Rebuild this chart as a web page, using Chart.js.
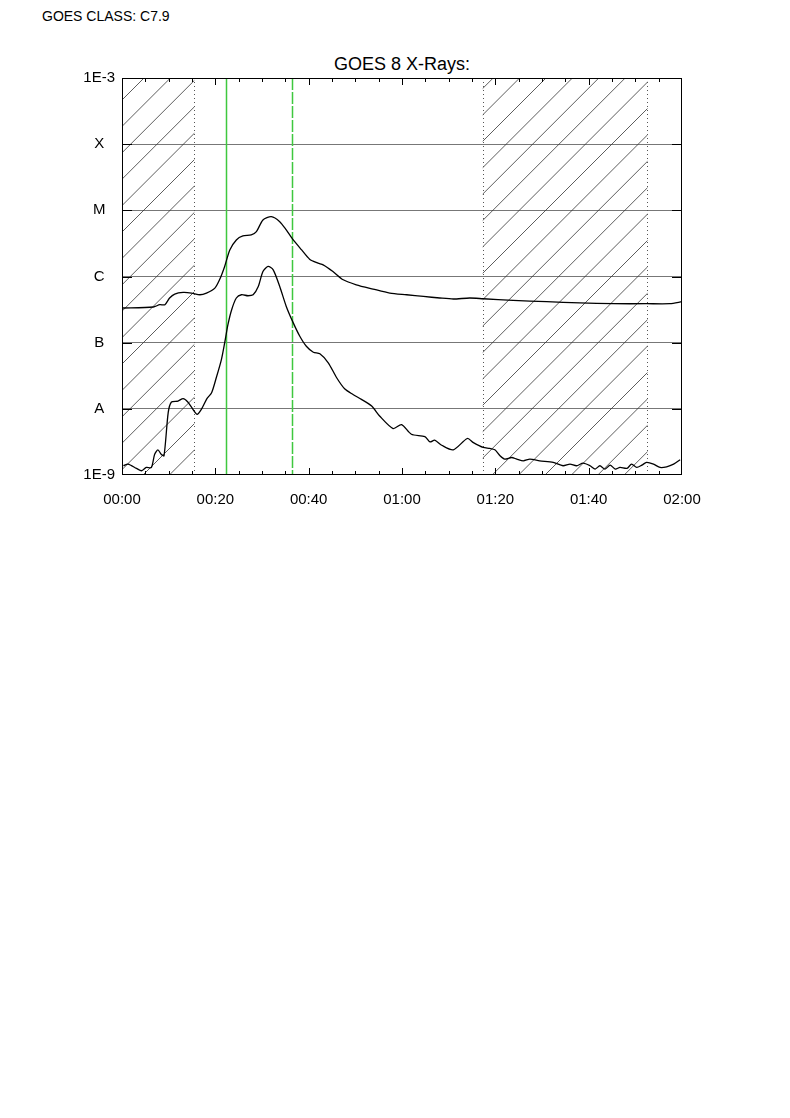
<!DOCTYPE html>
<html>
<head>
<meta charset="utf-8">
<script src="https://cdn.jsdelivr.net/npm/chart.js@4.4.0/dist/chart.umd.min.js"></script>
<style>
  body { margin: 0; background: #fff; width: 790px; height: 1118px; overflow: hidden; position: relative;
         font-family: "Liberation Sans", Arial, sans-serif; color: #000; }
  #cls { position: absolute; left: 42px; top: 8px; font-size: 14px; line-height: 16px; }
  #ttl { position: absolute; left: 122px; width: 560px; top: 54px; text-align: center; font-size: 18px; line-height: 20px; }
  #wrap { position: absolute; left: 0; top: 0; width: 790px; height: 520px; }
</style>
</head>
<body>
<div id="cls">GOES CLASS: C7.9</div>
<div id="ttl">GOES 8 X-Rays:</div>
<div id="wrap"><canvas id="goes" width="790" height="520"></canvas></div>
<script>
// temps en minutes depuis 00:00, flux en W/m2
const longTimes = [0, 6.7, 8.1, 9.2, 10.2, 11.3, 13.1, 14.9, 16.7, 18.1, 19.9, 20.9, 22.0, 23.1, 24.5, 25.9,
    27.7, 28.8, 30.2, 32.0, 33.8, 35.2, 36.7, 38.5, 40.2, 42.0, 43.1, 45.2, 47.4, 50.2, 53.8, 57.4,
    61.0, 64.6, 68.1, 71.0, 74.5, 77.4, 83.8, 91.0, 98.1, 105.3, 112.4, 117.4, 120];
const longFlux = [3.34e-7, 3.46e-7, 3.75e-7, 3.75e-7, 4.73e-7, 5.43e-7, 5.74e-7, 5.62e-7, 5.30e-7, 5.62e-7,
    6.68e-7, 8.92e-7, 1.42e-6, 2.52e-6, 3.57e-6, 4.10e-6, 4.25e-6, 4.76e-6, 7.15e-6, 8.01e-6, 6.73e-6,
    5.05e-6, 3.57e-6, 2.52e-6, 1.83e-6, 1.59e-6, 1.50e-6, 1.19e-6, 8.92e-7, 7.50e-7, 6.46e-7, 5.62e-7,
    5.30e-7, 5.00e-7, 4.73e-7, 4.57e-7, 4.73e-7, 4.61e-7, 4.35e-7, 4.16e-7, 3.98e-7, 3.88e-7, 3.88e-7,
    3.88e-7, 4.16e-7];

const shortTimes = [0.3, 1.3, 3.1, 4.2, 5.2, 6.3, 7.0, 7.7, 8.4, 9.0, 9.9, 10.6, 12.0, 13.1, 14.1, 15.2,
    16.1, 17.0, 18.2, 19.2, 20.2, 21.3, 22.0, 22.7, 23.5, 24.5, 25.6, 27.0, 28.1, 29.2, 30.2, 31.3,
    32.4, 33.8, 35.2, 36.7, 38.1, 39.5, 41.0, 42.4, 44.2, 46.0, 47.7, 49.5, 51.3, 53.5, 55.2, 58.1,
    59.9, 62.0, 64.9, 66.0, 67.0, 68.5, 71.0, 74.0, 75.3, 77.4, 78.8, 79.9, 81.0, 82.0, 83.5, 84.6,
    86.0, 87.4, 89.5, 92.4, 94.5, 96.0, 97.4, 98.8, 100.3, 101.4, 102.4, 103.5, 104.6, 105.7, 106.7,
    108.2, 109.2, 110.3, 111.4, 112.4, 113.9, 115.3, 116.7, 118.2, 119.6];
const shortFlux = [1.38e-9, 1.46e-9, 1.26e-9, 1.16e-9, 1.30e-9, 1.30e-9, 2.06e-9, 2.40e-9, 2.06e-9, 1.95e-9,
    8.77e-9, 1.27e-8, 1.31e-8, 1.43e-8, 1.27e-8, 9.82e-9, 8.26e-9, 9.82e-9, 1.43e-8, 1.75e-8, 2.95e-8,
    5.56e-8, 9.93e-8, 1.87e-7, 3.15e-7, 4.73e-7, 5.30e-7, 5.12e-7, 5.30e-7, 7.06e-7, 1.19e-6, 1.42e-6,
    1.26e-6, 7.06e-7, 3.53e-7, 1.99e-7, 1.25e-7, 8.83e-8, 7.17e-8, 6.78e-8, 4.96e-8, 2.95e-8, 2.01e-8,
    1.65e-8, 1.39e-8, 1.10e-8, 7.80e-9, 5.04e-9, 5.78e-9, 4.13e-9, 3.81e-9, 3.16e-9, 3.36e-9, 2.82e-9,
    2.40e-9, 3.56e-9, 3.09e-9, 2.61e-9, 2.52e-9, 2.40e-9, 1.95e-9, 1.74e-9, 1.84e-9, 1.74e-9, 1.64e-9,
    1.74e-9, 1.64e-9, 1.55e-9, 1.38e-9, 1.46e-9, 1.38e-9, 1.51e-9, 1.38e-9, 1.23e-9, 1.38e-9, 1.23e-9,
    1.41e-9, 1.23e-9, 1.30e-9, 1.26e-9, 1.46e-9, 1.30e-9, 1.41e-9, 1.55e-9, 1.46e-9, 1.30e-9, 1.33e-9,
    1.46e-9, 1.70e-9];

// graduations de l'axe Y (puissances de 10) et leurs noms de classe
const yExponents = [-9, -8, -7, -6, -5, -4, -3];
const yLabels = ['1E-9', 'A', 'B', 'C', 'M', 'X', '1E-3'];

// zones hachurees (nuit / SAA) et marqueurs du flare, en minutes
const hatchStarts = [0, 77.3];
const hatchEnds = [15.5, 112.6];
const dottedMarks = [15.5, 77.3, 112.6];
const flareStart = 22.2;
const flareEnd = 36.4;

function hhmm(v) {
    const h = Math.floor(v / 60), m = Math.round(v % 60);
    return String(h).padStart(2, '0') + ':' + String(m).padStart(2, '0');
}

const decorPlugin = {
    id: 'goesDecor',
    beforeDatasetsDraw(chart) {
        const ctx = chart.ctx;
        const { top, bottom } = chart.chartArea;
        const xs = chart.scales.x;
        const phases = [10.8, 16.8];
        const step = 26.4;

        // hachures a 45 degres
        hatchStarts.forEach((a, i) => {
            const x0 = xs.getPixelForValue(a), x1 = xs.getPixelForValue(hatchEnds[i]);
            ctx.save();
            ctx.beginPath();
            ctx.rect(x0, top, x1 - x0, bottom - top);
            ctx.clip();
            ctx.strokeStyle = '#333';
            ctx.lineWidth = 0.8;
            let c = phases[i] + Math.floor((x0 + top - phases[i]) / step) * step;
            for (; c <= x1 + bottom + step; c += step) {
                ctx.beginPath();
                ctx.moveTo(c - bottom, bottom);
                ctx.lineTo(c - top, top);
                ctx.stroke();
            }
            ctx.restore();
        });

        // lignes pointillees
        ctx.save();
        ctx.strokeStyle = '#555';
        ctx.lineWidth = 1;
        ctx.setLineDash([1, 3]);
        dottedMarks.forEach(t => {
            const x = Math.round(xs.getPixelForValue(t)) + 0.5;
            ctx.beginPath();
            ctx.moveTo(x, top);
            ctx.lineTo(x, bottom);
            ctx.stroke();
        });
        ctx.restore();

        // debut / fin du flare en vert
        ctx.save();
        ctx.strokeStyle = '#3fc83f';
        ctx.lineWidth = 1.5;
        let x = Math.round(xs.getPixelForValue(flareStart)) + 0.5;
        ctx.beginPath(); ctx.moveTo(x, top); ctx.lineTo(x, bottom); ctx.stroke();
        ctx.setLineDash([12, 2]);
        x = Math.round(xs.getPixelForValue(flareEnd)) + 0.5;
        ctx.beginPath(); ctx.moveTo(x, top); ctx.lineTo(x, bottom); ctx.stroke();
        ctx.restore();
    },
    afterDraw(chart) {
        const ctx = chart.ctx;
        const { left, right, top, bottom } = chart.chartArea;
        const xs = chart.scales.x, ys = chart.scales.y;
        ctx.save();
        ctx.strokeStyle = '#000';
        ctx.lineWidth = 1;
        ctx.strokeRect(left + 0.5, top + 0.5, right - left - 1, bottom - top - 1);

        // petites graduations vers l'interieur
        for (let t = 5; t < 120; t += 5) {
            const x = Math.round(xs.getPixelForValue(t)) + 0.5;
            const len = (t % 20 === 0) ? 7 : 4;
            ctx.beginPath();
            ctx.moveTo(x, bottom); ctx.lineTo(x, bottom - len);
            ctx.moveTo(x, top); ctx.lineTo(x, top + len);
            ctx.stroke();
        }
        yExponents.slice(1, -1).forEach(e => {
            const y = Math.round(ys.getPixelForValue(Math.pow(10, e))) + 0.5;
            ctx.beginPath();
            ctx.moveTo(left, y); ctx.lineTo(left + 10, y);
            ctx.moveTo(right, y); ctx.lineTo(right - 10, y);
            ctx.stroke();
        });
        ctx.restore();
    }
};

const toPoints = (ts, vs) => ts.map((t, i) => ({ x: t, y: vs[i] }));

new Chart(document.getElementById('goes'), {
    type: 'line',
    data: {
        datasets: [
            { label: '1-8 A', data: toPoints(longTimes, longFlux), borderColor: '#000', borderWidth: 1.3,
              pointRadius: 0, tension: 0.25, fill: false },
            { label: '0.5-4 A', data: toPoints(shortTimes, shortFlux), borderColor: '#000', borderWidth: 1.3,
              pointRadius: 0, tension: 0.25, fill: false }
        ]
    },
    options: {
        responsive: false,
        animation: false,
        devicePixelRatio: 1,
        layout: { padding: { top: 78, right: 108, left: 0, bottom: 0 } },
        plugins: { legend: { display: false }, tooltip: { enabled: false } },
        scales: {
            x: {
                type: 'linear',
                min: 0,
                max: 120,
                grid: { display: false },
                border: { display: false },
                ticks: {
                    stepSize: 20,
                    padding: 8,
                    maxRotation: 0,
                    color: '#000',
                    font: { family: '"Liberation Sans", Arial, sans-serif', size: 15 },
                    callback: v => hhmm(v)
                },
                afterFit: s => { s.height = 45; }
            },
            y: {
                type: 'logarithmic',
                min: 1e-9,
                max: 1e-3,
                afterBuildTicks: s => { s.ticks = yExponents.map(e => ({ value: Math.pow(10, e) })); },
                grid: {
                    drawTicks: false,
                    lineWidth: 1,
                    color: c => {
                        const e = Math.round(Math.log10(c.tick.value));
                        return (e === -9 || e === -3) ? 'rgba(0,0,0,0)' : '#777';
                    }
                },
                border: { display: false },
                ticks: {
                    crossAlign: 'center',
                    padding: 7,
                    color: '#000',
                    font: { family: '"Liberation Sans", Arial, sans-serif', size: 15 },
                    callback: v => yLabels[yExponents.indexOf(Math.round(Math.log10(v)))]
                },
                afterFit: s => { s.width = 122; }
            }
        }
    },
    plugins: [decorPlugin]
});
</script>
</body>
</html>
